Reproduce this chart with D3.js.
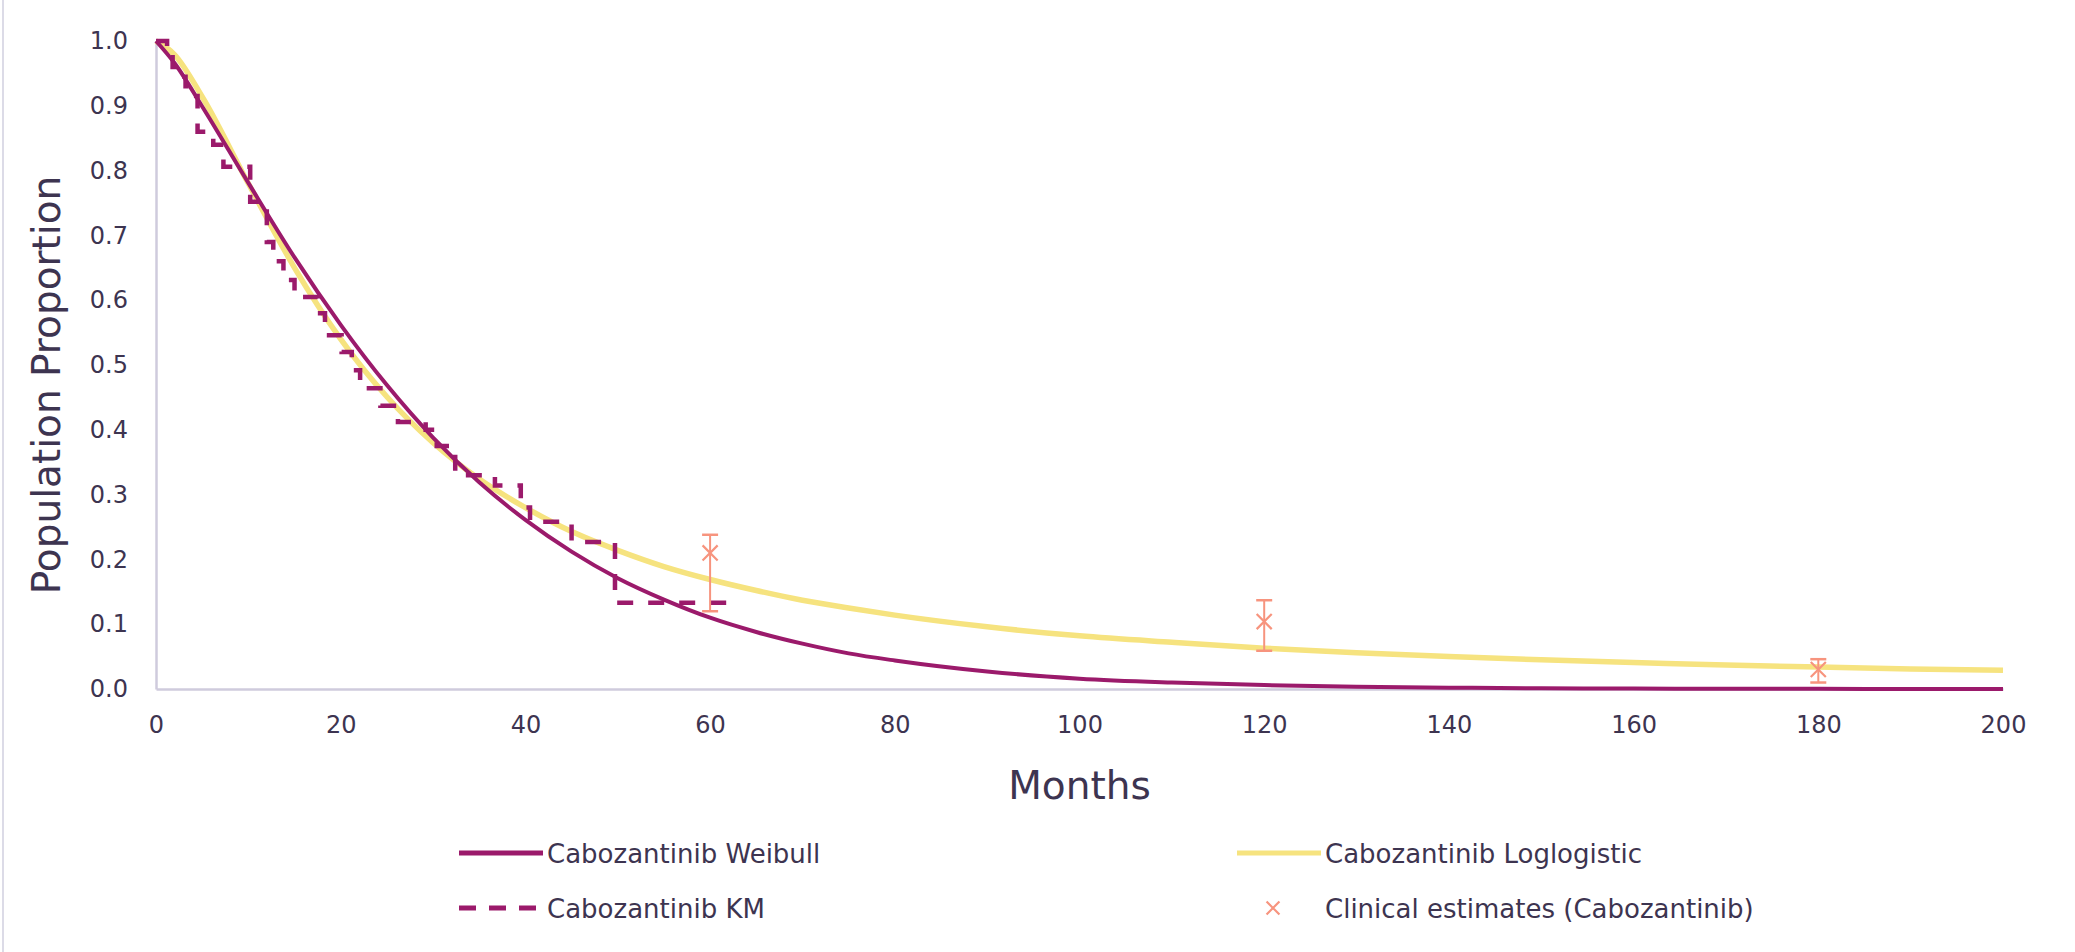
<!DOCTYPE html>
<html>
<head>
<meta charset="utf-8">
<script src="https://cdn.jsdelivr.net/npm/d3@7/dist/d3.min.js"></script>
<style>
  html, body { margin: 0; padding: 0; background: #fff; }
  svg { display: block; }
  text { font-family: "DejaVu Sans", Verdana, sans-serif; fill: #3d3450; }
</style>
</head>
<body>
<svg id="chart" width="2075" height="952"></svg>
<script>
// Survival curves (months vs population proportion)
const fitMonths = [0, 2, 5, 10, 15, 20, 25, 30, 35, 40, 45, 50, 55, 60, 65, 70, 75, 80, 90, 100, 110, 120, 130, 140, 150, 160, 170, 180, 190, 200];
const weibullSurv = [1.000, 0.966, 0.899, 0.781, 0.666, 0.562, 0.469, 0.388, 0.319, 0.261, 0.212, 0.171, 0.138, 0.110, 0.088, 0.070, 0.055, 0.044, 0.027, 0.016, 0.010, 0.006, 0.0035, 0.002, 0.0012, 0.0007, 0.0004, 0.0002, 0.0001, 0.0001];
const loglogSurv = [1.000, 0.979, 0.914, 0.780, 0.650, 0.540, 0.451, 0.380, 0.324, 0.280, 0.243, 0.214, 0.189, 0.169, 0.152, 0.137, 0.125, 0.114, 0.096, 0.082, 0.072, 0.063, 0.056, 0.050, 0.045, 0.041, 0.037, 0.034, 0.031, 0.029];

// Kaplan-Meier step points
const kmMonths = [0, 1.2, 1.8, 2.5, 3.2, 4.0, 4.5, 6.2, 7.3, 10.2, 12.0, 12.7, 13.8, 15.0, 17.5, 18.3, 20.1, 21.2, 22.1, 24.3, 26.2, 29.2, 30.4, 32.4, 36.7, 39.5, 40.5, 45.0, 49.7, 62.8];
const kmSurv = [1.0, 0.975, 0.96, 0.945, 0.93, 0.915, 0.86, 0.84, 0.806, 0.752, 0.69, 0.66, 0.631, 0.605, 0.58, 0.546, 0.52, 0.492, 0.464, 0.437, 0.412, 0.40, 0.375, 0.33, 0.314, 0.28, 0.258, 0.227, 0.133, 0.133];

// Clinical estimates with ranges
const clinMonths = [60, 120, 180];
const clinEst = [0.21, 0.104, 0.03];
const clinLow = [0.12, 0.059, 0.01];
const clinHigh = [0.238, 0.137, 0.046];

// Axis ticks
const xTicks = [0, 20, 40, 60, 80, 100, 120, 140, 160, 180, 200];
const yTicks = [0, 0.1, 0.2, 0.3, 0.4, 0.5, 0.6, 0.7, 0.8, 0.9, 1.0];

const legendLabels = ["Cabozantinib Weibull", "Cabozantinib Loglogistic", "Cabozantinib KM", "Clinical estimates (Cabozantinib)"];

const colWeibull = "#9b1a6b";
const colLoglog = "#f6e37f";
const colClin = "#f7947e";
const colAxis = "#cfcbdd";

const svg = d3.select("#chart");
const plotLeft = 156, plotRight = 2003, plotTop = 41, plotBottom = 689;

const x = d3.scaleLinear().domain([0, 200]).range([plotLeft, plotRight]);
const y = d3.scaleLinear().domain([0, 1]).range([plotBottom, plotTop]);

// outer frame edge
svg.append("line").attr("x1", 3).attr("x2", 3).attr("y1", 0).attr("y2", 952)
  .attr("stroke", "#dcdbe7").attr("stroke-width", 2);

// axes
const xAxis = d3.axisBottom(x).tickValues(xTicks).tickSize(0).tickPadding(27).tickFormat(d3.format("d"));
const yAxis = d3.axisLeft(y).tickValues(yTicks).tickSize(0).tickPadding(28).tickFormat(d3.format(".1f"));

const gx = svg.append("g").attr("transform", `translate(0,${plotBottom})`).call(xAxis);
const gy = svg.append("g").attr("transform", `translate(${plotLeft},0)`).call(yAxis);
[gx, gy].forEach(g => {
  g.select(".domain").attr("stroke", colAxis).attr("stroke-width", 2.5);
  g.selectAll("text").style("font-size", "24px").attr("fill", "#3d3450")
    .style("font-family", '"DejaVu Sans", Verdana, sans-serif');
});

// axis titles
svg.append("text").attr("x", (plotLeft + plotRight) / 2).attr("y", 799)
  .attr("text-anchor", "middle").style("font-size", "39px").text("Months");
svg.append("text").attr("transform", "translate(60,385) rotate(-90)")
  .attr("text-anchor", "middle").style("font-size", "39px").text("Population Proportion");

const plot = svg.append("g");

// log-logistic curve
const smooth = d3.line().x(d => x(d[0])).y(d => y(d[1])).curve(d3.curveMonotoneX);
plot.append("path").datum(fitMonths.map((m, i) => [m, loglogSurv[i]]))
  .attr("d", smooth).attr("fill", "none").attr("stroke", colLoglog).attr("stroke-width", 5.5);

// Weibull curve
plot.append("path").datum(fitMonths.map((m, i) => [m, weibullSurv[i]]))
  .attr("d", smooth).attr("fill", "none").attr("stroke", colWeibull).attr("stroke-width", 4);

// KM step curve
const step = d3.line().x(d => x(d[0])).y(d => y(d[1])).curve(d3.curveStepAfter);
plot.append("path").datum(kmMonths.map((m, i) => [m, kmSurv[i]]))
  .attr("d", step).attr("fill", "none").attr("stroke", colWeibull).attr("stroke-width", 4.5)
  .attr("stroke-dasharray", "16,15");

// clinical estimates: error bars and x markers
const clin = clinMonths.map((m, i) => ({ m, est: clinEst[i], lo: clinLow[i], hi: clinHigh[i] }));
const cg = plot.selectAll(".clin").data(clin).enter().append("g").attr("class", "clin");
cg.append("line").attr("x1", d => x(d.m)).attr("x2", d => x(d.m))
  .attr("y1", d => y(d.lo)).attr("y2", d => y(d.hi)).attr("stroke", colClin).attr("stroke-width", 2);
cg.append("line").attr("x1", d => x(d.m) - 8).attr("x2", d => x(d.m) + 8)
  .attr("y1", d => y(d.hi)).attr("y2", d => y(d.hi)).attr("stroke", colClin).attr("stroke-width", 2.5);
cg.append("line").attr("x1", d => x(d.m) - 8).attr("x2", d => x(d.m) + 8)
  .attr("y1", d => y(d.lo)).attr("y2", d => y(d.lo)).attr("stroke", colClin).attr("stroke-width", 2.5);
const cross = d3.symbol().type(d3.symbolX).size(150);
cg.append("path").attr("d", cross).attr("transform", d => `translate(${x(d.m)},${y(d.est)})`)
  .attr("fill", "none").attr("stroke", colClin).attr("stroke-width", 2.2);

// legend
const leg = svg.append("g");
const row1 = 853, row2 = 908;
const legFont = "26px";
leg.append("line").attr("x1", 459).attr("x2", 543).attr("y1", row1).attr("y2", row1)
  .attr("stroke", colWeibull).attr("stroke-width", 5);
leg.append("text").attr("x", 547).attr("y", row1 + 10).style("font-size", legFont).text(legendLabels[0]);
leg.append("line").attr("x1", 1237).attr("x2", 1321).attr("y1", row1).attr("y2", row1)
  .attr("stroke", colLoglog).attr("stroke-width", 5);
leg.append("text").attr("x", 1325).attr("y", row1 + 10).style("font-size", legFont).text(legendLabels[1]);
leg.append("line").attr("x1", 459).attr("x2", 543).attr("y1", row2).attr("y2", row2)
  .attr("stroke", colWeibull).attr("stroke-width", 5).attr("stroke-dasharray", "17,13");
leg.append("text").attr("x", 547).attr("y", row2 + 10).style("font-size", legFont).text(legendLabels[2]);
leg.append("path").attr("d", d3.symbol().type(d3.symbolX).size(110)).attr("transform", `translate(1273,${row2})`)
  .attr("fill", "none").attr("stroke", colClin).attr("stroke-width", 2.2);
leg.append("text").attr("x", 1325).attr("y", row2 + 10).style("font-size", legFont).text(legendLabels[3]);
</script>
</body>
</html>
